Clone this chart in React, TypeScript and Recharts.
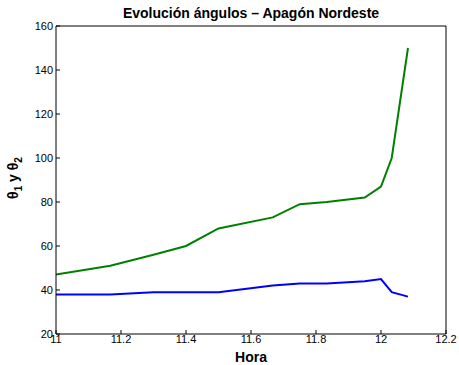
import React from 'react';
import { LineChart, Line, XAxis, YAxis } from 'recharts';

const horas = [11, 11.167, 11.3, 11.4, 11.5, 11.667, 11.75, 11.833, 11.95, 12.0, 12.033, 12.083];
const theta1 = [38, 38, 39, 39, 39, 42, 43, 43, 44, 45, 39, 37];
const theta2 = [47, 51, 56, 60, 68, 73, 79, 80, 82, 87, 100, 150];
const xTicks = [11, 11.2, 11.4, 11.6, 11.8, 12, 12.2];
const yTicks = [20, 40, 60, 80, 100, 120, 140, 160];

const d1 = horas.map((t, i) => ({ t, v: theta1[i] }));
const d2 = horas.map((t, i) => ({ t, v: theta2[i] }));

const FONT = '"Liberation Sans", Arial, Helvetica, sans-serif';
const tickStyle = { fill: '#000', fontSize: 11, fontFamily: FONT };

export default function App() {
  return (
    <div style={{ position: 'absolute', left: 0, top: 0, width: 459, height: 365, background: '#fff', fontFamily: FONT }}>
      <LineChart width={459} height={365} margin={{ top: 25, right: 12, bottom: 0, left: 0 }}>
        <XAxis
          dataKey="t"
          type="number"
          domain={[11, 12.2]}
          ticks={xTicks}
          allowDataOverflow
          height={31}
          stroke="#000"
          tickSize={-4}
          tickMargin={5}
          tick={tickStyle}
          tickFormatter={(v: number) => String(Number(v.toFixed(1)))}
        />
        <XAxis
          xAxisId="top"
          orientation="top"
          dataKey="t"
          type="number"
          domain={[11, 12.2]}
          ticks={xTicks}
          allowDataOverflow
          height={1}
          stroke="#000"
          tickSize={-4}
          tick={false}
        />
        <YAxis
          type="number"
          domain={[20, 160]}
          ticks={yTicks}
          allowDataOverflow
          width={56}
          stroke="#000"
          tickSize={-4}
          tickMargin={7}
          tick={tickStyle}
        />
        <YAxis
          yAxisId="right"
          orientation="right"
          type="number"
          domain={[20, 160]}
          ticks={yTicks}
          allowDataOverflow
          width={1}
          stroke="#000"
          tickSize={-4}
          tick={false}
        />
        <Line data={d1} dataKey="v" stroke="#0000ff" strokeWidth={2} dot={false} isAnimationActive={false} />
        <Line data={d2} dataKey="v" stroke="#008000" strokeWidth={2} dot={false} isAnimationActive={false} />
        <text x={251} y={18} textAnchor="middle" fontSize={14} fontWeight="bold" fontFamily={FONT} fill="#000">
          Evolución ángulos – Apagón Nordeste
        </text>
        <text x={251} y={362} textAnchor="middle" fontSize={14} fontWeight="bold" fontFamily={FONT} fill="#000">
          Hora
        </text>
        <text
          x={0}
          y={0}
          transform="translate(18,178) rotate(-90)"
          textAnchor="middle"
          fontSize={14}
          fontWeight="bold"
          fontFamily={FONT}
          fill="#000"
        >
          θ<tspan fontSize={10} dy={4}>1</tspan>
          <tspan dy={-4}> y θ</tspan>
          <tspan fontSize={10} dy={4}>2</tspan>
        </text>
      </LineChart>
    </div>
  );
}
